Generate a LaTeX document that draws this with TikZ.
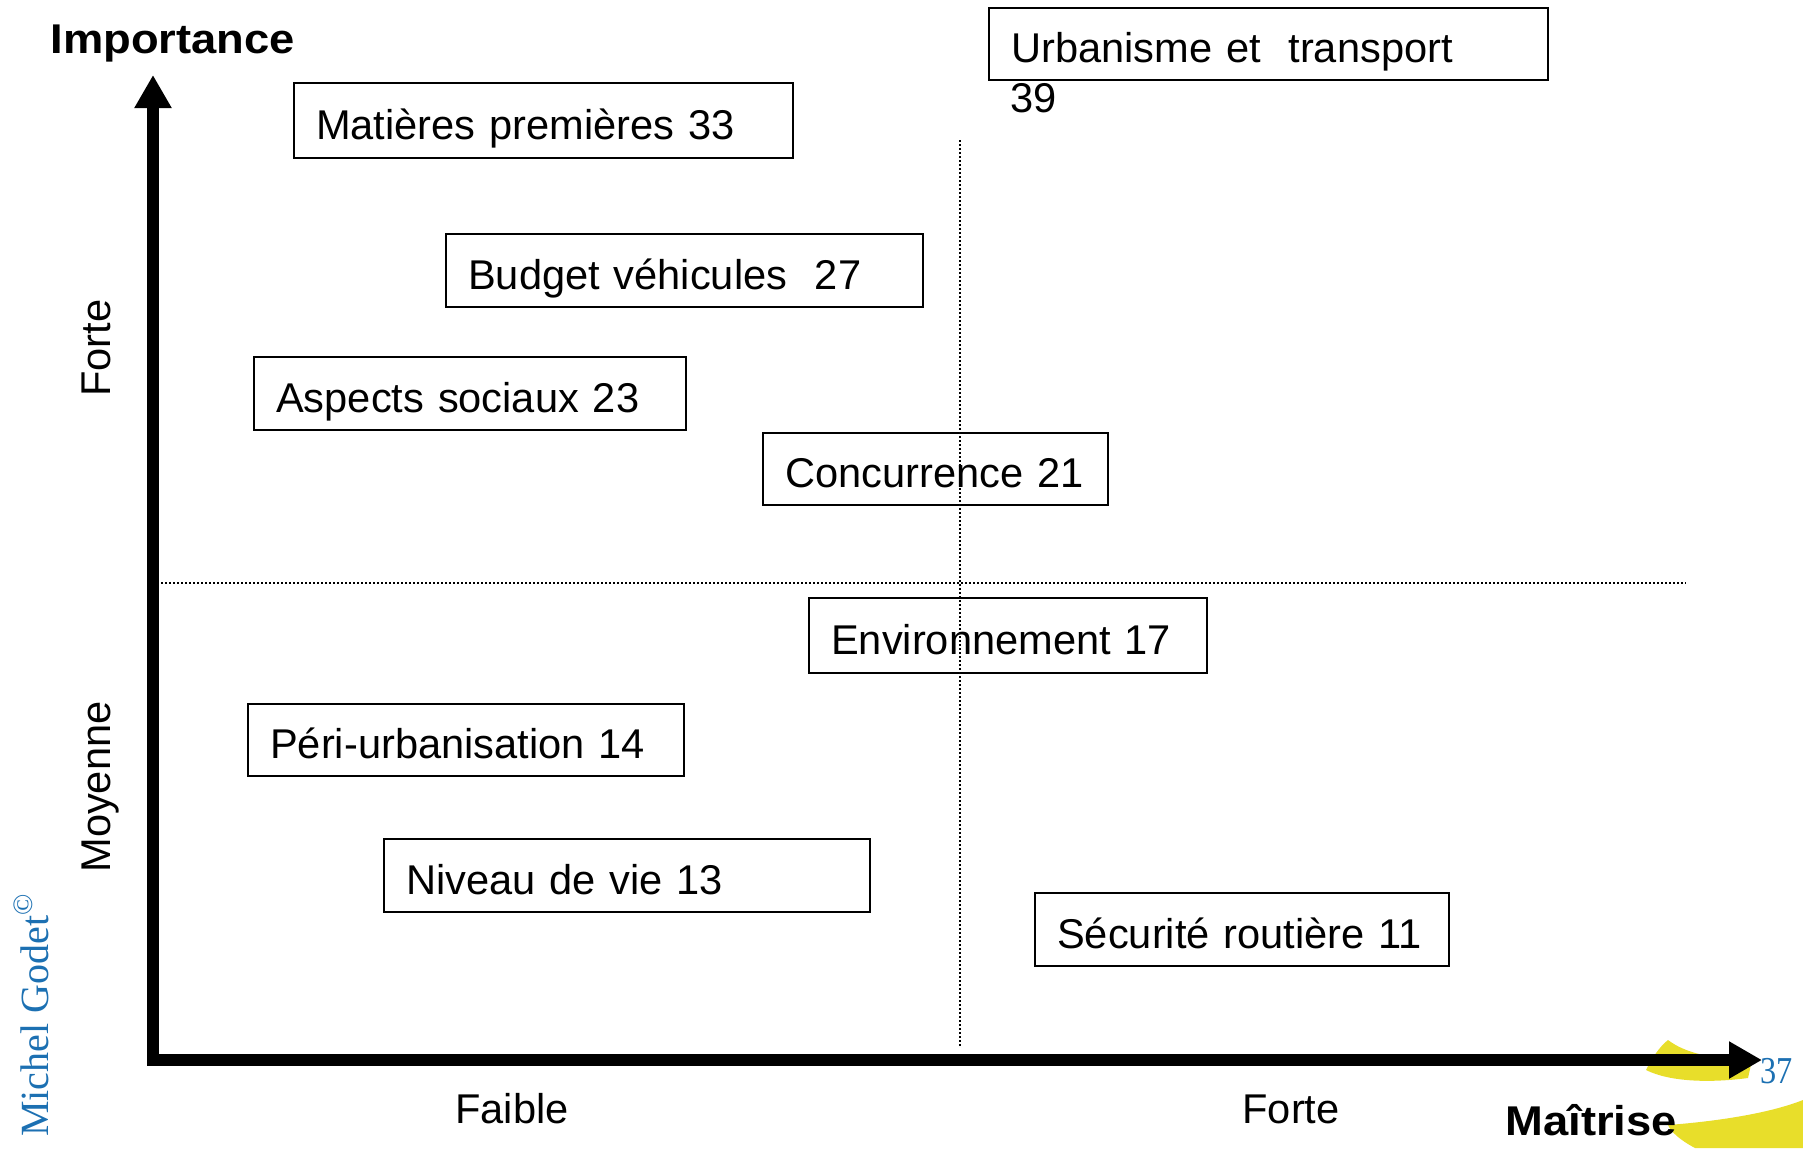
\documentclass[tikz,border=0pt]{standalone}
\usepackage{fontspec}
\setmainfont{Liberation Sans}
\newfontfamily\godetserif{Liberation Serif}
\usetikzlibrary{arrows.meta}
\definecolor{godetblue}{RGB}{28,112,178}
\definecolor{swoosh}{RGB}{232,222,42}
\begin{document}
\begin{tikzpicture}[x=0.5pt,y=-0.5pt,
  every node/.style={font=\fontsize{20.8pt}{25pt}\selectfont, inner sep=0pt},
  factor/.style={draw, line width=1.2pt, anchor=north west, align=left,
    inner xsep=11pt, inner ysep=0pt, text height=20pt, text depth=1.5pt},
  headlbl/.style={font=\bfseries\fontsize{20.8pt}{25pt}\selectfont, xscale=1.09},
  axis/.style={line width=6pt, -{Triangle[length=16.5pt,width=17.5pt]}},
  divider/.style={line width=0.9pt, dash pattern=on 1pt off 1pt},
  godet/.style={text=godetblue, font=\godetserif\fontsize{20pt}{24pt}\selectfont}]

% page frame
\useasboundingbox (0,0) rectangle (1803,1148);
\clip (0,0) rectangle (1803,1148);

% yellow swooshes in the lower right corner
\fill[swoosh] (1646,1070) .. controls (1652,1058) and (1660,1046) .. (1668,1040)
  .. controls (1676,1046) and (1690,1054) .. (1720,1058)
  -- (1752,1060) -- (1748,1078)
  .. controls (1710,1083) and (1670,1082) .. (1646,1070) -- cycle;
\fill[swoosh] (1668,1125) .. controls (1720,1121) and (1770,1113) .. (1803,1100)
  -- (1803,1148) -- (1695,1148)
  .. controls (1680,1140) and (1671,1132) .. (1668,1125) -- cycle;

% quadrant dividers
\coordinate (vtop) at (960,140);
\coordinate (vbot) at (960,1046);
\coordinate (hleft) at (161,583);
\coordinate (hright) at (1686,583);
\draw[divider] (vtop) -- (vbot);
\draw[divider] (hleft) -- (hright);

% factors
\node[factor, minimum height=37.5pt, text width=227.5pt] (mat) at (293,82) {\mbox{Matières premières 33}};
\node[factor, minimum height=36.5pt, text width=216.5pt] (bud) at (445,233) {\mbox{Budget véhicules\ \ 27}};
\node[factor, minimum height=36.5pt, text width=194pt] (asp) at (253,356) {\mbox{Aspects sociaux 23}};
\node[factor, minimum height=36pt, text width=150.5pt] (con) at (762,432) {\mbox{Concurrence 21}};
\node[factor, minimum height=37.5pt, text width=177pt] (env) at (808,597) {\mbox{Environnement 17}};
\node[factor, minimum height=36pt, text width=196pt] (per) at (247,703) {\mbox{Péri-urbanisation 14}};
\node[factor, minimum height=36.5pt, text width=221pt] (niv) at (383,838) {\mbox{Niveau de vie 13}};
\node[factor, minimum height=36.5pt, text width=185pt] (sec) at (1034,892) {\mbox{Sécurité routière 11}};
\node[factor, minimum height=36pt, text width=257.5pt] (urb) at (988,7) {\mbox{Urbanisme et\ \ transport}};
\node[anchor=base west] (urbval) at (1010,112) {39};

% axes
\coordinate (origin) at (153,1060);
\coordinate (ytip) at (153,75);
\coordinate (xtip) at (1762,1060);
\draw[axis] (origin) -- (ytip);
\draw[axis] ([xshift=-3pt]origin) -- (xtip);

% axis titles and scale labels
\node[headlbl, anchor=base west] (imp) at (50,53) {Importance};
\node[headlbl, anchor=base west] (mai) at (1505,1135) {Maîtrise};
\node[anchor=base] (faible) at (512,1123) {Faible};
\node[anchor=base] (fortex) at (1291,1123) {Forte};
\node[rotate=90, anchor=base] (fortey) at (110,348) {Forte};
\node[rotate=90, anchor=base] (moyenne) at (110,787) {Moyenne};

% credit and page number
\node[godet, rotate=90, anchor=base east] (credit) at (48,893) {Michel Godet\textsuperscript{©}};
\node[godet, font=\godetserif\fontsize{19pt}{22pt}\selectfont, xscale=0.85, anchor=base west] (page) at (1760,1083) {37};
\end{tikzpicture}
\end{document}
